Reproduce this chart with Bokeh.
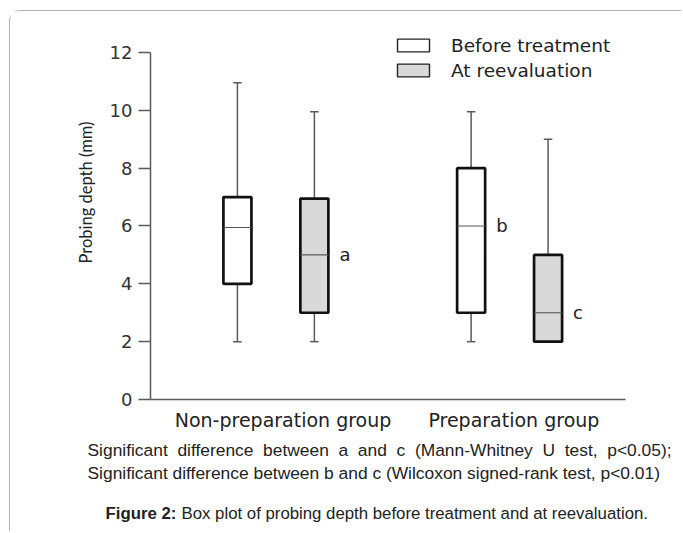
import math
import numpy as np
from bokeh.plotting import figure
from bokeh.models import Range1d, FixedTicker, Legend, LegendItem, Label, ColumnDataSource
from bokeh.core.properties import value
from bokeh.embed import file_html
from bokeh.resources import INLINE

# ---------------- data ----------------
categories = ["Non-preparation group", "Preparation group"]
series = ["Before treatment", "At reevaluation"]
# per group: [Non-preparation, Preparation]
before_low = [2.0, 2.0]
before_q1 = [4.0, 3.0]
before_median = [5.95, 6.0]
before_q3 = [7.0, 8.0]
before_high = [10.95, 9.95]
before_letter = ["", "b"]

reeval_low = [2.0, 2.0]
reeval_q1 = [3.0, 2.0]
reeval_median = [5.0, 3.0]
reeval_q3 = [6.95, 5.0]
reeval_high = [9.95, 9.0]
reeval_letter = ["a", "c"]

y_ticks = [0, 2, 4, 6, 8, 10, 12]

caption1 = "Significant difference between a and c (Mann-Whitney U test, p<0.05);"
caption2 = "Significant difference between b and c (Wilcoxon signed-rank test, p<0.01)"
fig_bold = "Figure 2:"
fig_text = "Box plot of probing depth before treatment and at reevaluation."

# ---------------- layout constants ----------------
W, H = 672, 521                 # canvas size (page offset 10, 11 incl. border)
X_UNIT, Y_UNIT = 47.5, 28.917   # pixels per data unit
X0_PX, Y0_PX = 140, 388         # canvas position of data origin (from top-left)
group_pos = [2.64, 7.56]
label_pos = [2.79, 7.65]
offset = 0.81
box_w = 0.59
cap_half = 0.09
fills = ["#ffffff", "#d9d9d9"]

x_range = Range1d(-X0_PX / X_UNIT, (W - X0_PX) / X_UNIT)
y_range = Range1d(-(H - Y0_PX) / Y_UNIT, Y0_PX / Y_UNIT)

p = figure(width=W, height=H, output_backend="svg", toolbar_location=None,
           x_range=x_range, y_range=y_range, min_border=0)
p.outline_line_color = None
p.grid.grid_line_color = None
p.background_fill_color = "white"
p.styles = {"margin-left": "9px", "margin-top": "10px",
            "border-left": "1px solid #b5b5b5", "border-top": "1px solid #b5b5b5",
            "border-top-left-radius": "11px"}

wcol = "#5a5a5a"


def make_source(side, low, q1, med, q3, high, letter):
    xs = [g + side * offset for g in group_pos]
    return ColumnDataSource(dict(
        x=xs, lo=low, q1=q1, med=med, q3=q3, hi=high, letter=letter,
        xl=[x - box_w / 2 for x in xs], xr=[x + box_w / 2 for x in xs],
        cl=[x - cap_half for x in xs], cr=[x + cap_half for x in xs]))


sources = [make_source(-1, before_low, before_q1, before_median, before_q3, before_high, before_letter),
           make_source(+1, reeval_low, reeval_q1, reeval_median, reeval_q3, reeval_high, reeval_letter)]

for si, src in enumerate(sources):
    p.segment(x0="x", y0="q3", x1="x", y1="hi", source=src, line_color=wcol, line_width=1.5)
    p.segment(x0="x", y0="lo", x1="x", y1="q1", source=src, line_color=wcol, line_width=1.5)
    p.segment(x0="cl", y0="hi", x1="cr", y1="hi", source=src, line_color=wcol, line_width=1.5)
    p.segment(x0="cl", y0="lo", x1="cr", y1="lo", source=src, line_color=wcol, line_width=1.5)
    p.vbar(x="x", width=box_w, bottom="q1", top="q3", source=src,
           fill_color=fills[si], line_color="#111111", line_width=2.7)
    p.segment(x0="xl", y0="med", x1="xr", y1="med", source=src,
              line_color="#555555", line_width=1.1)
    p.text(x="x", y="med", text="letter", source=src, x_offset=25, text_align="left",
           text_baseline="middle", text_font=value("DejaVu Sans"), text_font_size="18px",
           text_color="#222222")

# legend keys: thin-bordered swatches (not drawn in the plot area)
key_src = ColumnDataSource(dict(x=np.array([np.nan]), top=np.array([np.nan])))
keys = [p.vbar(x="x", top="top", width=1, source=key_src, fill_color=fills[i],
               line_color="#222222", line_width=1.4) for i in range(2)]
legend = Legend(items=[LegendItem(label=series[i], renderers=[keys[i]]) for i in range(2)],
                location=(383, 451), orientation="vertical",
                padding=0, margin=0, spacing=3, glyph_width=40, glyph_height=16,
                label_height=22, label_standoff=18,
                label_text_font="DejaVu Sans", label_text_font_size="18.5px",
                label_text_color="#222222",
                border_line_color=None, background_fill_alpha=0)
p.add_layout(legend, "center")

# y axis
ya = p.yaxis[0]
ya.fixed_location = 0
ya.bounds = (0, 12)
ya.ticker = FixedTicker(ticks=y_ticks)
ya.axis_line_color = wcol
ya.axis_line_width = 1.5
ya.major_tick_line_color = wcol
ya.major_tick_line_width = 1.5
ya.major_tick_out = 12
ya.major_tick_in = 0
ya.minor_tick_line_color = None
ya.major_label_standoff = 6
ya.major_label_text_font = "DejaVu Sans"
ya.major_label_text_font_size = "18px"
ya.major_label_text_color = "#333333"

# x axis
xa = p.xaxis[0]
xa.fixed_location = 0
xa.bounds = (0, 10)
xa.ticker = FixedTicker(ticks=label_pos)
xa.major_label_overrides = {label_pos[i]: categories[i] for i in range(2)}
xa.axis_line_color = wcol
xa.axis_line_width = 1.5
xa.major_tick_line_color = None
xa.minor_tick_line_color = None
xa.major_tick_out = 0
xa.major_tick_in = 0
xa.major_label_standoff = 9
xa.major_label_text_font = "DejaVu Sans"
xa.major_label_text_font_size = "19px"
xa.major_label_text_color = "#222222"

# y axis title
p.add_layout(Label(x=75, y=340, x_units="screen", y_units="screen",
                   text="Probing depth (mm)", angle=math.pi / 2,
                   text_align="center", text_baseline="middle",
                   text_font="Lato", text_font_size="16.5px", text_color="#222222"))

# captions (first line is justified in the original: widen its word gaps)
cap_font = "Liberation Sans"
caption1_just = caption1.replace(" ", " \u00a0")
for txt, xx, yy, style, size in [(caption1_just, 77, 83, "normal", "17.4px"),
                                 (caption2, 77, 60, "normal", "17.4px"),
                                 (fig_bold, 95, 19, "bold", "16.8px"),
                                 (fig_text, 171, 19, "normal", "16.8px")]:
    p.add_layout(Label(x=xx, y=yy, x_units="screen", y_units="screen", text=txt,
                       text_align="left", text_baseline="middle", text_font=cap_font,
                       text_font_style=style, text_font_size=size, text_color="#222222"))

open("out.html", "w").write(file_html(p, INLINE))
